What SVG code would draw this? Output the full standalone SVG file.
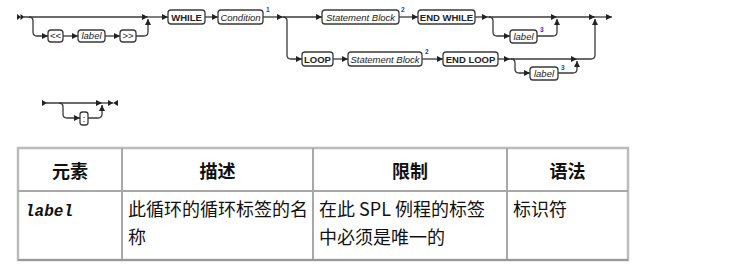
<svg xmlns="http://www.w3.org/2000/svg" width="754" height="266" viewBox="0 0 754 266">
<style>
.ln{fill:none;stroke:#3a3a3a;stroke-width:1.3}
.bx{fill:#fff;stroke:#3a3a3a;stroke-width:1.3}
.t{font-family:"Liberation Sans",Arial,sans-serif;font-size:9.5px;fill:#222;text-anchor:middle}
.b{font-weight:bold}
.i{font-style:italic}
.sup{font-family:"Liberation Sans",Arial,sans-serif;font-size:6.5px;fill:#2233ee;font-weight:bold}
.hd{font-family:"Noto Sans CJK SC",sans-serif;font-size:18px;font-weight:bold;fill:#111;text-anchor:middle}
.bd{font-family:"Noto Sans CJK SC",sans-serif;font-size:18px;fill:#111}
.cell{fill:none;stroke:#a8a8a8;stroke-width:2}
.ah{fill:#222}
</style>
<defs>
<marker id="arr" viewBox="0 0 6 6" refX="6" refY="3" markerWidth="6" markerHeight="6" markerUnits="userSpaceOnUse" orient="auto">
<path d="M0,0 L6,3 L0,6 z" fill="#222"/>
</marker>
</defs>
<g id="connectors">
<polygon class="ah" points="17,14 21,17 17,20"/>
<polygon class="ah" points="20.5,14 24.5,17 20.5,20"/>
<path class="ln" d="M24,17 H148" marker-end="url(#arr)"/>
<path class="ln" d="M29,17 Q33,17 33,21 V32 Q33,36 37,36 H48" marker-end="url(#arr)"/>
<path class="ln" d="M63,36 H78" marker-end="url(#arr)"/>
<path class="ln" d="M105,36 H120" marker-end="url(#arr)"/>
<path class="ln" d="M136,36 H144 Q148,36 148,32 V19" marker-end="url(#arr)"/>
<path class="ln" d="M148,17 H168" marker-end="url(#arr)"/>
<path class="ln" d="M205,17 H218" marker-end="url(#arr)"/>
<path class="ln" d="M263,17 H283" marker-end="url(#arr)"/>
<path class="ln" d="M283,17 H322" marker-end="url(#arr)"/>
<path class="ln" d="M283,17 Q287,17 287,21 V55 Q287,59 291,59 H302" marker-end="url(#arr)"/>
<path class="ln" d="M399,17 H418" marker-end="url(#arr)"/>
<path class="ln" d="M475,17 H488" marker-end="url(#arr)"/>
<path class="ln" d="M488,17 H557" marker-end="url(#arr)"/>
<path class="ln" d="M489,17 Q493,17 493,21 V32 Q493,36 497,36 H510" marker-end="url(#arr)"/>
<path class="ln" d="M537,36 H553 Q557,36 557,32 V19" marker-end="url(#arr)"/>
<path class="ln" d="M557,17 H595" marker-end="url(#arr)"/>
<path class="ln" d="M595,17 H612" marker-end="url(#arr)"/>
<path class="ln" d="M333,59 H348" marker-end="url(#arr)"/>
<path class="ln" d="M422,59 H443" marker-end="url(#arr)"/>
<path class="ln" d="M498,59 H510" marker-end="url(#arr)"/>
<path class="ln" d="M510,59 H577" marker-end="url(#arr)"/>
<path class="ln" d="M511,59 Q515,59 515,63 V69 Q515,73 519,73 H530" marker-end="url(#arr)"/>
<path class="ln" d="M558,73 H573 Q577,73 577,69 V61" marker-end="url(#arr)"/>
<path class="ln" d="M577,59 H591 Q595,59 595,55 V19" marker-end="url(#arr)"/>
<polygon class="ah" points="42,100 47,103 42,106"/>
<path class="ln" d="M46,103 H102" marker-end="url(#arr)"/>
<path class="ln" d="M59,103 Q63,103 63,107 V114 Q63,118 67,118 H80" marker-end="url(#arr)"/>
<path class="ln" d="M88,118 H98 Q102,118 102,114 V105" marker-end="url(#arr)"/>
<path class="ln" d="M102,103 H113"/>
<polygon class="ah" points="108,100 113,103 108,106"/>
<polygon class="ah" points="118,100 113,103 118,106"/>
</g>
<g id="lt"><rect class="bx" x="48" y="30" width="15" height="12" rx="3"/><text class="t" x="55.5" y="39.3">&lt;&lt;</text></g>
<g id="label1"><rect class="bx" x="78" y="30" width="27" height="12" rx="3"/><text class="t i" x="91.5" y="39.3">label</text></g>
<g id="gt"><rect class="bx" x="120" y="30" width="16" height="12" rx="3"/><text class="t" x="128" y="39.3">&gt;&gt;</text></g>
<g id="while"><rect class="bx" x="168" y="10" width="37" height="14" rx="3"/><text class="t b" x="186.5" y="20.6">WHILE</text></g>
<g id="condition"><rect class="bx" x="218" y="10" width="45" height="14" rx="3"/><text class="t i" x="240.5" y="20.6">Condition</text><text class="sup" x="266" y="12">1</text></g>
<g id="stmt1"><rect class="bx" x="322" y="10" width="77" height="14" rx="3"/><text class="t i" x="360.5" y="20.6">Statement Block</text><text class="sup" x="401" y="12">2</text></g>
<g id="endwhile"><rect class="bx" x="418" y="10" width="57" height="14" rx="3"/><text class="t b" x="446.5" y="20.6">END WHILE</text></g>
<g id="label2"><rect class="bx" x="510" y="30" width="27" height="13" rx="3"/><text class="t i" x="523.5" y="39.8">label</text><text class="sup" x="540" y="32">3</text></g>
<g id="loop"><rect class="bx" x="302" y="52" width="31" height="14" rx="3"/><text class="t b" x="317.5" y="62.6">LOOP</text></g>
<g id="stmt2"><rect class="bx" x="348" y="52" width="74" height="14" rx="3"/><text class="t i" x="385" y="62.6">Statement Block</text><text class="sup" x="425" y="54">2</text></g>
<g id="endloop"><rect class="bx" x="443" y="52" width="55" height="14" rx="3"/><text class="t b" x="470.5" y="62.6">END LOOP</text></g>
<g id="label3"><rect class="bx" x="530" y="67" width="28" height="13" rx="3"/><text class="t i" x="544" y="76.8">label</text><text class="sup" x="561" y="70">3</text></g>
<g id="colon"><rect class="bx" x="80" y="112" width="8" height="13" rx="2.5"/><text class="t" x="84" y="121.5">:</text></g>
<g id="table">
<rect x="18" y="148" width="610" height="112" fill="none" stroke="#bbb" stroke-width="2.5"/>
<line class="cell" x1="18" y1="191" x2="628" y2="191"/>
<line class="cell" x1="122" y1="148" x2="122" y2="260"/>
<line class="cell" x1="313" y1="148" x2="313" y2="260"/>
<line class="cell" x1="507" y1="148" x2="507" y2="260"/>
<line x1="18" y1="260" x2="628" y2="260" stroke="#999" stroke-width="2"/>
<text class="hd" x="70" y="178">元素</text>
<text class="hd" x="217.5" y="178">描述</text>
<text class="hd" x="410" y="178">限制</text>
<text class="hd" x="567.5" y="178">语法</text>
<text x="25" y="216" font-family="'Liberation Mono',monospace" font-size="16" font-weight="bold" font-style="italic" fill="#111">label</text>
<text class="bd" x="128" y="216">此循环的循环标签的名</text>
<text class="bd" x="128" y="244">称</text>
<text class="bd" x="319" y="216">在此 SPL 例程的标签</text>
<text class="bd" x="319" y="244">中必须是唯一的</text>
<text class="bd" x="513" y="216">标识符</text>
</g>
</svg>
